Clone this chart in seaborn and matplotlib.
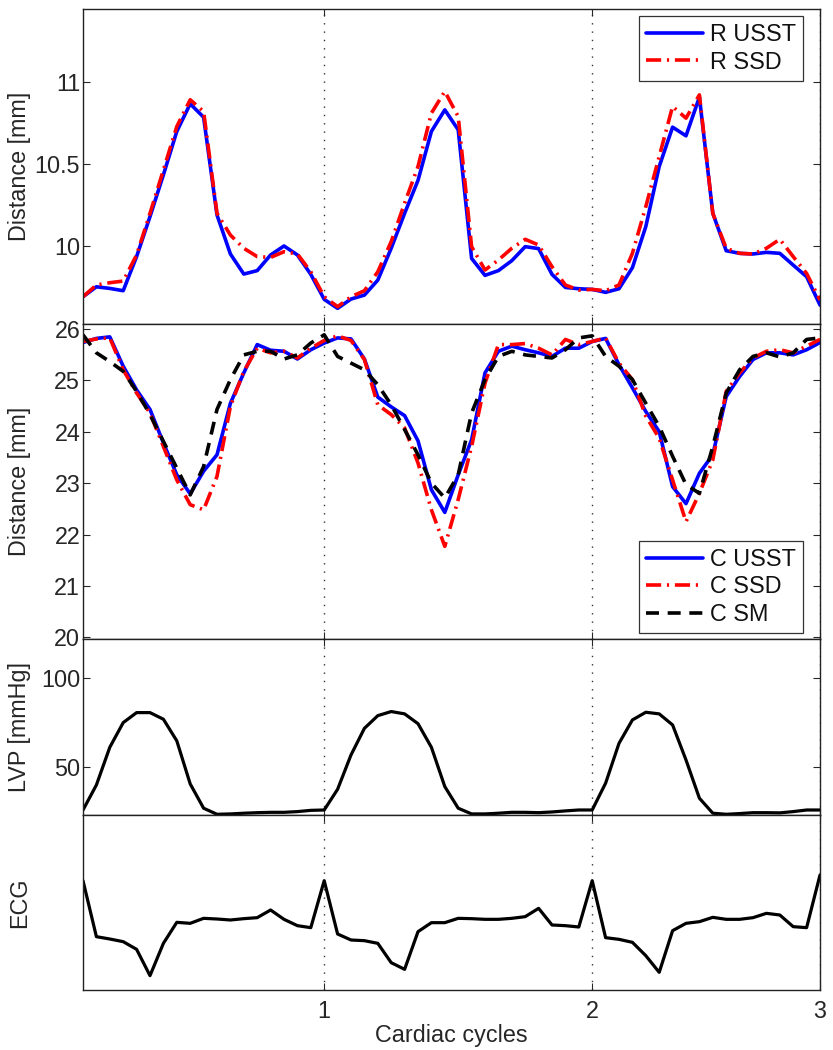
import numpy as np
import pandas as pd
import matplotlib
matplotlib.use("Agg")
import matplotlib.pyplot as plt
import seaborn as sns

# ---------------- data (frame index 0..55) ----------------
frames = list(range(56))
cycle_ticks = [18, 38, 55]
cycle_labels = ["1", "2", "3"]

r_usst = [9.687, 9.748, 9.738, 9.724, 9.933, 10.178, 10.434, 10.70, 10.869, 10.787,
          10.188, 9.949, 9.826, 9.847, 9.943, 9.998, 9.943, 9.824, 9.671, 9.616,
          9.673, 9.697, 9.789, 9.984, 10.198, 10.40, 10.70, 10.832, 10.71, 9.922,
          9.818, 9.847, 9.908, 9.994, 9.982, 9.824, 9.744, 9.736, 9.732, 9.714,
          9.736, 9.865, 10.117, 10.485, 10.726, 10.673, 10.91, 10.198, 9.969, 9.953,
          9.949, 9.959, 9.953, 9.881, 9.81, 9.636]
r_ssd = [9.687, 9.759, 9.773, 9.783, 9.943, 10.198, 10.464, 10.73, 10.894, 10.822,
         10.198, 10.065, 9.984, 9.933, 9.928, 9.963, 9.949, 9.84, 9.687, 9.626,
         9.687, 9.724, 9.84, 10.025, 10.26, 10.485, 10.812, 10.945, 10.791, 9.994,
         9.851, 9.912, 9.984, 10.039, 10.004, 9.871, 9.759, 9.728, 9.732, 9.724,
         9.759, 9.953, 10.239, 10.546, 10.853, 10.781, 10.924, 10.198, 9.984, 9.953,
         9.949, 9.984, 10.039, 9.933, 9.83, 9.667]

c_usst = [25.73, 25.81, 25.84, 25.27, 24.81, 24.43, 23.78, 23.16, 22.79, 23.23,
          23.55, 24.55, 25.14, 25.69, 25.58, 25.56, 25.41, 25.59, 25.72, 25.82,
          25.80, 25.41, 24.67, 24.48, 24.31, 23.82, 22.87, 22.43, 23.16, 23.84,
          25.14, 25.56, 25.66, 25.59, 25.53, 25.46, 25.62, 25.62, 25.75, 25.81,
          25.30, 24.85, 24.39, 24.00, 22.93, 22.60, 23.19, 23.55, 24.68, 25.07,
          25.40, 25.53, 25.53, 25.49, 25.59, 25.73]
c_ssd = [25.75, 25.80, 25.82, 25.20, 24.75, 24.36, 23.71, 23.06, 22.58, 22.48,
         23.13, 24.49, 25.17, 25.62, 25.53, 25.56, 25.43, 25.62, 25.77, 25.86,
         25.77, 25.40, 24.52, 24.33, 24.07, 23.39, 22.48, 21.77, 22.68, 23.71,
         24.94, 25.69, 25.69, 25.71, 25.62, 25.49, 25.79, 25.69, 25.75, 25.82,
         25.33, 25.01, 24.30, 23.87, 23.06, 22.25, 22.80, 23.45, 24.78, 25.14,
         25.43, 25.56, 25.59, 25.53, 25.66, 25.79]
c_sm = [25.88, 25.53, 25.36, 25.17, 24.78, 24.33, 23.81, 23.29, 22.77, 23.32,
        24.43, 25.01, 25.49, 25.56, 25.56, 25.41, 25.49, 25.72, 25.88, 25.46,
        25.33, 25.20, 24.91, 24.52, 24.04, 23.55, 23.00, 22.71, 23.16, 24.36,
        25.01, 25.46, 25.56, 25.49, 25.46, 25.43, 25.59, 25.82, 25.86, 25.46,
        25.27, 25.01, 24.55, 24.10, 23.52, 22.97, 22.80, 23.71, 24.75, 25.20,
        25.46, 25.53, 25.45, 25.53, 25.79, 25.82]

lvp = [25.9, 39.9, 61.0, 74.8, 80.4, 80.4, 76.7, 64.6, 40.5, 26.9,
       23.5, 23.7, 24.1, 24.4, 24.6, 24.6, 25.0, 25.7, 25.9, 37.5,
       56.7, 71.6, 78.7, 81.0, 79.7, 74.2, 61.0, 39.0, 26.9, 23.7,
       23.7, 24.1, 24.6, 24.6, 24.4, 24.8, 25.4, 25.9, 25.9, 40.9,
       63.2, 76.3, 80.6, 79.7, 73.5, 53.9, 32.5, 24.1, 23.5, 23.9,
       24.4, 24.4, 24.3, 25.0, 25.9, 25.9]

ecg = [3.28, 1.60, 1.53, 1.45, 1.22, 0.43, 1.40, 2.03, 2.00, 2.15,
       2.13, 2.10, 2.14, 2.17, 2.40, 2.12, 1.93, 1.87, 3.28, 1.68,
       1.50, 1.48, 1.40, 0.82, 0.62, 1.75, 2.02, 2.02, 2.15, 2.14,
       2.12, 2.12, 2.15, 2.20, 2.45, 1.95, 1.93, 1.89, 3.28, 1.57,
       1.52, 1.43, 1.03, 0.53, 1.78, 2.00, 2.05, 2.18, 2.12, 2.12,
       2.17, 2.30, 2.25, 1.90, 1.87, 3.45]

# ---------------- style ----------------
sns.set_style("ticks")
plt.rcParams["font.family"] = ["Liberation Sans", "DejaVu Sans"]
FS = 16.8
plt.rcParams["font.size"] = FS
plt.rcParams["axes.linewidth"] = 1.0
plt.rcParams["axes.edgecolor"] = "#222222"
plt.rcParams["text.color"] = "#111111"

fig = plt.figure(figsize=(8.33, 10.5), dpi=100)
L, R = 83 / 833, 820 / 833
def ax_at(top_px, bot_px):
    return fig.add_axes([L, 1 - bot_px / 1050, R - L, (bot_px - top_px) / 1050])

ax1 = ax_at(9, 324)
ax2 = ax_at(324, 639)
ax3 = ax_at(639, 815)
ax4 = ax_at(815, 990)
axes = [ax1, ax2, ax3, ax4]

LW = 2.6
red_dash = (0, (4.2, 1.6, 0.6, 1.6))
blk_dash = (0, (3.6, 2.4))

df1 = pd.DataFrame({"x": frames, "R USST": r_usst, "R SSD": r_ssd})
sns.lineplot(data=df1, x="x", y="R USST", ax=ax1, color="#0000FF", lw=LW, label="R USST")
sns.lineplot(data=df1, x="x", y="R SSD", ax=ax1, color="#FF0000", lw=LW, label="R SSD",
             linestyle=red_dash)
ax1.set_ylim(9.52, 11.45)
ax1.set_yticks([10, 10.5, 11])
ax1.set_yticklabels(["10", "10.5", "11"])
ax1.set_ylabel("Distance [mm]")

df2 = pd.DataFrame({"x": frames, "C USST": c_usst, "C SSD": c_ssd, "C SM": c_sm})
sns.lineplot(data=df2, x="x", y="C USST", ax=ax2, color="#0000FF", lw=LW, label="C USST")
sns.lineplot(data=df2, x="x", y="C SSD", ax=ax2, color="#FF0000", lw=LW, label="C SSD",
             linestyle=red_dash)
sns.lineplot(data=df2, x="x", y="C SM", ax=ax2, color="black", lw=LW, label="C SM",
             linestyle=blk_dash)
ax2.set_ylim(19.97, 26.09)
ax2.set_yticks([20, 21, 22, 23, 24, 25, 26])
ax2.set_ylabel("Distance [mm]")

df3 = pd.DataFrame({"x": frames, "LVP": lvp})
sns.lineplot(data=df3, x="x", y="LVP", ax=ax3, color="black", lw=2.3)
ax3.set_ylim(23.1, 121.6)
ax3.set_yticks([50, 100])
ax3.set_ylabel("LVP [mmHg]")

df4 = pd.DataFrame({"x": frames, "ECG": ecg})
sns.lineplot(data=df4, x="x", y="ECG", ax=ax4, color="black", lw=2.3)
ax4.set_ylim(0, 5.25)
ax4.set_yticks([])
ax4.set_ylabel("ECG")
ax4.set_xlabel("Cardiac cycles")

for ax in axes:
    ax.set_xlim(0, 55)
    ax.set_xticks(cycle_ticks)
    ax.grid(axis="x", linestyle=(0, (1, 5)), color="#333333", lw=1.0)
    ax.tick_params(direction="in", top=True, right=True, length=5, width=0.8,
                   labelsize=FS, pad=2)
    ax.yaxis.set_label_coords(-0.07, 0.5)
    for s in ax.spines.values():
        s.set_visible(True)
for ax in axes[:3]:
    ax.set_xticklabels([])
    ax.set_xlabel("")
ax4.set_xticklabels(cycle_labels)
ax4.tick_params(axis="x", pad=7)
ax4.xaxis.set_label_coords(0.5, -0.195)

for ax, loc, anchor in [(ax1, "upper right", (0.977, 0.978)),
                        (ax2, "lower right", (0.977, 0.019))]:
    leg = ax.legend(loc=loc, bbox_to_anchor=anchor, fontsize=FS, frameon=True,
                    fancybox=False, edgecolor="black", handlelength=2.45,
                    borderaxespad=0.0, labelspacing=0.2, handletextpad=0.3,
                    borderpad=0.3)
    leg.get_frame().set_linewidth(0.9)

fig.savefig("out.png", dpi=100)
